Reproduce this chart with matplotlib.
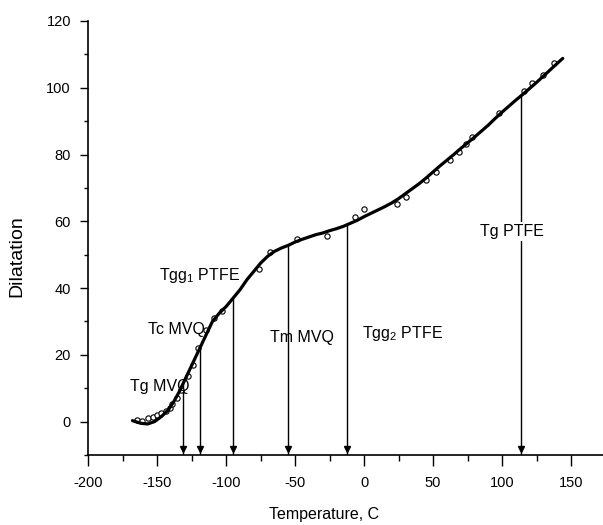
import matplotlib
matplotlib.use("Agg")
import matplotlib.pyplot as plt
from matplotlib.ticker import MultipleLocator

plt.rcParams['font.family'] = ['Liberation Sans', 'DejaVu Sans']
plt.rcParams['mathtext.fontset'] = 'custom'
plt.rcParams['mathtext.rm'] = 'Liberation Sans'
plt.rcParams['mathtext.it'] = 'Liberation Sans'
plt.rcParams['axes.unicode_minus'] = False

# Fitted curve
curve_x = [-168, -162, -157, -152, -147, -142, -138, -134, -130, -126, -122, -118,
           -114, -110, -105, -100, -95, -90, -85, -80, -75, -70, -65, -60, -55, -50,
           -45, -40, -35, -30, -25, -20, -15, -10, -5, 0, 5, 10, 15, 20, 25, 30, 35,
           40, 45, 50, 55, 60, 65, 70, 75, 80, 85, 90, 95, 100, 105, 110, 115, 120,
           125, 130, 135, 140, 144]
curve_y = [0.3, -0.5, -0.7, 0.0, 1.5, 3.5, 6.0, 9.0, 12.5, 16.0, 19.5, 23.0,
           26.5, 30.0, 32.5, 34.5, 37.0, 39.5, 42.5, 45.0, 47.5, 49.5, 51.0, 52.0, 52.8, 53.8,
           54.6, 55.3, 56.0, 56.5, 57.2, 57.8, 58.5, 59.4, 60.3, 61.4, 62.4, 63.4, 64.4, 65.5,
           66.8, 68.3, 69.8, 71.3, 73.0, 74.8, 76.6, 78.3, 80.0, 81.8, 83.5, 85.2, 87.0, 88.8,
           90.8, 92.7, 94.5, 96.3, 98.0, 99.8, 101.6, 103.5, 105.4, 107.3, 108.8]

# Measured points (hollow circles)
pts_x = [-165, -161, -157, -153, -150, -147, -144, -141, -139, -136, -133, -128, -124,
         -120.5, -115, -108.5, -103, -76, -68, -49, -27, -6.6, 0, 24, 30, 44.6, 52, 62,
         69, 74, 78, 98, 116, 122, 130, 137.8]
pts_y = [0.5, 0.3, 1.0, 1.5, 2.0, 2.5, 3.2, 4.0, 5.4, 7.0, 9.5, 13.8, 17.0,
         22.2, 27.5, 30.9, 33.0, 45.6, 50.8, 54.6, 55.7, 61.3, 63.8, 65.3, 67.3, 72.3, 74.8, 78.5,
         80.8, 83.1, 85.3, 92.3, 99.1, 101.3, 103.8, 107.3]

# Transition markers
arrow_x = [-131, -119, -95, -55.5, -12.5, 114]
arrow_top = [11.8, 22.5, 37.0, 52.6, 59.2, 98.0]

labels = ["Tg MVQ", "Tc MVQ", "Tgg$_1$ PTFE", "Tm MVQ", "Tgg$_2$ PTFE", "Tg PTFE"]
label_x = [-170, -157, -149, -68.5, -1.5, 84]
label_y = [10.5, 27.7, 43.9, 25.1, 26.4, 57.0]

fig = plt.figure(figsize=(6.03, 5.25), dpi=100)
ax = fig.add_axes([88.3 / 603, 1 - 455 / 525, 1 - 88.3 / 603, (455 - 21) / 525])

ax.plot(curve_x, curve_y, color='black', lw=2.3, solid_capstyle='round', zorder=3)
ax.plot(pts_x, pts_y, linestyle='none', marker='o', ms=3.8, mfc='white',
        mec='black', mew=0.8, zorder=2)

for x, top in zip(arrow_x, arrow_top):
    ax.plot([x, x], [top, -10], color='black', lw=1.0, zorder=1)
    ax.plot([x], [-8.2], marker='v', ms=5, color='black', zorder=1)

for t, x, y in zip(labels, label_x, label_y):
    kw = {}
    if t == "Tg PTFE":
        kw['bbox'] = dict(facecolor='white', edgecolor='none', pad=1.5)
    ax.text(x, y, t, fontsize=11.5, ha='left', va='center', zorder=4, **kw)

ax.set_xlim(-200, 173.2)
ax.set_ylim(-10, 120)
ax.xaxis.set_major_locator(MultipleLocator(50))
ax.xaxis.set_minor_locator(MultipleLocator(25))
ax.yaxis.set_major_locator(MultipleLocator(20))
ax.yaxis.set_minor_locator(MultipleLocator(10))
ax.set_yticks([0, 20, 40, 60, 80, 100, 120])

for s in ['top', 'right']:
    ax.spines[s].set_visible(False)
for s in ['left', 'bottom']:
    ax.spines[s].set_linewidth(1.2)

ax.tick_params(axis='x', which='major', direction='out', length=8, width=1, labelsize=10.5, pad=7)
ax.tick_params(axis='x', which='minor', direction='out', length=4, width=1)
ax.tick_params(axis='y', which='major', direction='out', length=5.5, width=1, labelsize=10.5, pad=7)
ax.tick_params(axis='y', which='minor', direction='out', length=3, width=1)

fig.text(324 / 603, 1 - 514 / 525, "Temperature, C", fontsize=11.5, ha='center', va='center')
fig.text(17 / 603, 1 - 256 / 525, "Dilatation", fontsize=14, ha='center', va='center', rotation=90)

fig.savefig("out.png", dpi=100)
